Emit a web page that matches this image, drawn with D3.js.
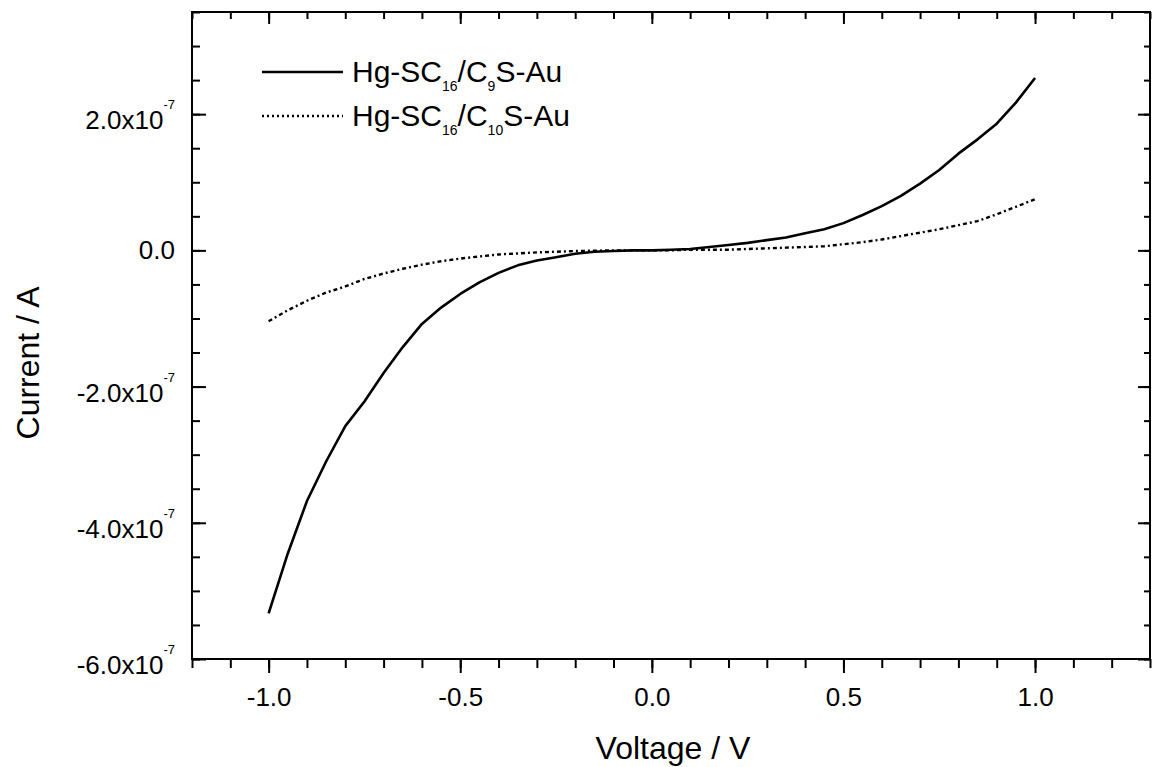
<!DOCTYPE html>
<html>
<head>
<meta charset="utf-8">
<script src="https://cdn.jsdelivr.net/npm/d3@7"></script>
<style>
  html, body { margin: 0; padding: 0; background: #fff; }
  svg { display: block; }
  text { font-family: "Liberation Sans", Arial, sans-serif; fill: #000; }
</style>
</head>
<body>
<svg id="chart" width="1152" height="767"></svg>
<script>
// ---- data (current in units of 1e-7 A) ----
const voltage = [-1.00,-0.95,-0.90,-0.85,-0.80,-0.75,-0.70,-0.65,-0.60,-0.55,-0.50,-0.45,-0.40,-0.35,-0.30,-0.25,-0.20,-0.15,-0.10,-0.05,0.00,0.05,0.10,0.15,0.20,0.25,0.30,0.35,0.40,0.45,0.50,0.55,0.60,0.65,0.70,0.75,0.80,0.85,0.90,0.95,1.00];
const currentC9 = [-5.33,-4.45,-3.68,-3.10,-2.58,-2.22,-1.80,-1.42,-1.08,-0.84,-0.64,-0.47,-0.33,-0.22,-0.15,-0.10,-0.05,-0.02,-0.01,0.00,0.00,0.01,0.02,0.05,0.08,0.11,0.15,0.19,0.25,0.31,0.40,0.52,0.65,0.80,0.98,1.18,1.42,1.63,1.86,2.17,2.53];
const currentC10 = [-1.04,-0.88,-0.74,-0.62,-0.53,-0.42,-0.34,-0.27,-0.21,-0.16,-0.12,-0.09,-0.06,-0.045,-0.03,-0.02,-0.01,-0.005,0.00,0.00,0.00,0.00,0.01,0.01,0.01,0.02,0.03,0.04,0.05,0.06,0.09,0.12,0.16,0.21,0.26,0.31,0.37,0.43,0.53,0.64,0.75];
const seriesNames = ["C9", "C10"];
const xTickValues = [-1.0, -0.5, 0.0, 0.5, 1.0];
const xTickLabels = ["-1.0", "-0.5", "0.0", "0.5", "1.0"];
const yTickValues = [-6, -4, -2, 0, 2];
const yTickMantissa = ["-6.0x10", "-4.0x10", "-2.0x10", "0.0", "2.0x10"];
const yTickExponent = ["-7", "-7", "-7", "", "-7"];
const xTitle = "Voltage / V";
const yTitle = "Current / A";

// ---- layout ----
const L = 192, R = 1150, T = 12, B = 659;
const svg = d3.select("#chart");
const x = d3.scaleLinear().domain([-1.2, 1.3]).range([L, R]);
const y = d3.scaleLinear().domain([-6, 3.5]).range([B, T]);

const xMinor = d3.range(-12, 14).map(d => d / 10);
const yMinor = d3.range(-12, 8).map(d => d / 2);

function styleAxis(g) {
  g.select(".domain").remove();
  g.selectAll(".tick line").attr("stroke", "#000").attr("stroke-width", 2);
}

// bottom (outward)
svg.append("g").attr("transform", `translate(0,${B})`)
  .call(d3.axisBottom(x).tickValues(xMinor).tickSize(9).tickFormat(""))
  .call(styleAxis);
const gb = svg.append("g").attr("transform", `translate(0,${B})`)
  .call(d3.axisBottom(x).tickValues(xTickValues).tickSize(14).tickPadding(15)
        .tickFormat((d, i) => xTickLabels[i]))
  .call(styleAxis);
gb.selectAll(".tick text").attr("font-size", 26).attr("fill", "#000")
  .attr("font-family", "Liberation Sans, Arial, sans-serif");

// top (inward)
svg.append("g").attr("transform", `translate(0,${T})`)
  .call(d3.axisBottom(x).tickValues(xMinor).tickSize(7).tickFormat(""))
  .call(styleAxis);
svg.append("g").attr("transform", `translate(0,${T})`)
  .call(d3.axisBottom(x).tickValues(xTickValues).tickSize(12).tickFormat(""))
  .call(styleAxis);

// left (inward)
svg.append("g").attr("transform", `translate(${L},0)`)
  .call(d3.axisRight(y).tickValues(yMinor).tickSize(8).tickFormat(""))
  .call(styleAxis);
svg.append("g").attr("transform", `translate(${L},0)`)
  .call(d3.axisRight(y).tickValues(yTickValues).tickSize(14).tickFormat(""))
  .call(styleAxis);

// right (inward)
svg.append("g").attr("transform", `translate(${R},0)`)
  .call(d3.axisLeft(y).tickValues(yMinor).tickSize(6).tickFormat(""))
  .call(styleAxis);
svg.append("g").attr("transform", `translate(${R},0)`)
  .call(d3.axisLeft(y).tickValues(yTickValues).tickSize(12).tickFormat(""))
  .call(styleAxis);

// frame
svg.append("rect").attr("x", L).attr("y", T).attr("width", R - L).attr("height", B - T)
  .attr("fill", "none").attr("stroke", "#000").attr("stroke-width", 2);

// y tick labels with superscripts
yTickValues.forEach((v, i) => {
  const hasExp = yTickExponent[i] !== "";
  const t = svg.append("text")
    .attr("x", 175)
    .attr("y", y(v) + (hasExp ? 15 : 9))
    .attr("text-anchor", "end")
    .attr("font-size", 26);
  t.append("tspan").text(yTickMantissa[i]);
  if (hasExp) t.append("tspan").attr("font-size", 13).attr("dy", -20).text(yTickExponent[i]);
});

// axis titles
svg.append("text").attr("x", (L + R) / 2 + 2).attr("y", 759)
  .attr("text-anchor", "middle").attr("font-size", 32).text(xTitle);
svg.append("text").attr("transform", "translate(39,363) rotate(-90)")
  .attr("text-anchor", "middle").attr("font-size", 32).text(yTitle);

// curves
const line = d3.line().x((d, i) => x(voltage[i])).y(d => y(d));
svg.append("path").datum(currentC9).attr("d", line)
  .attr("fill", "none").attr("stroke", "#000").attr("stroke-width", 2.6)
  .attr("stroke-linejoin", "round");
svg.append("path").datum(currentC10).attr("d", line)
  .attr("fill", "none").attr("stroke", "#000").attr("stroke-width", 2.4)
  .attr("stroke-dasharray", "4,3,2,3");

// legend
const legend = [
  { sub1: "16", mid: "/C", sub2: "9", dash: null, y: 72 },
  { sub1: "16", mid: "/C", sub2: "10", dash: "3,3", y: 116 }
];
legend.forEach((d, i) => {
  svg.append("line").attr("x1", 262).attr("x2", 343).attr("y1", d.y).attr("y2", d.y)
    .attr("stroke", "#000").attr("stroke-width", 2.4)
    .attr("stroke-dasharray", i === 0 ? null : "2,3");
  const t = svg.append("text").attr("x", 352).attr("y", d.y + 10).attr("font-size", 30);
  t.append("tspan").text("Hg-SC");
  t.append("tspan").attr("font-size", 14).attr("dy", 9).text(d.sub1);
  t.append("tspan").attr("dy", -9).text(d.mid);
  t.append("tspan").attr("font-size", 14).attr("dy", 9).text(d.sub2);
  t.append("tspan").attr("dy", -9).text("S-Au");
});
</script>
</body>
</html>
